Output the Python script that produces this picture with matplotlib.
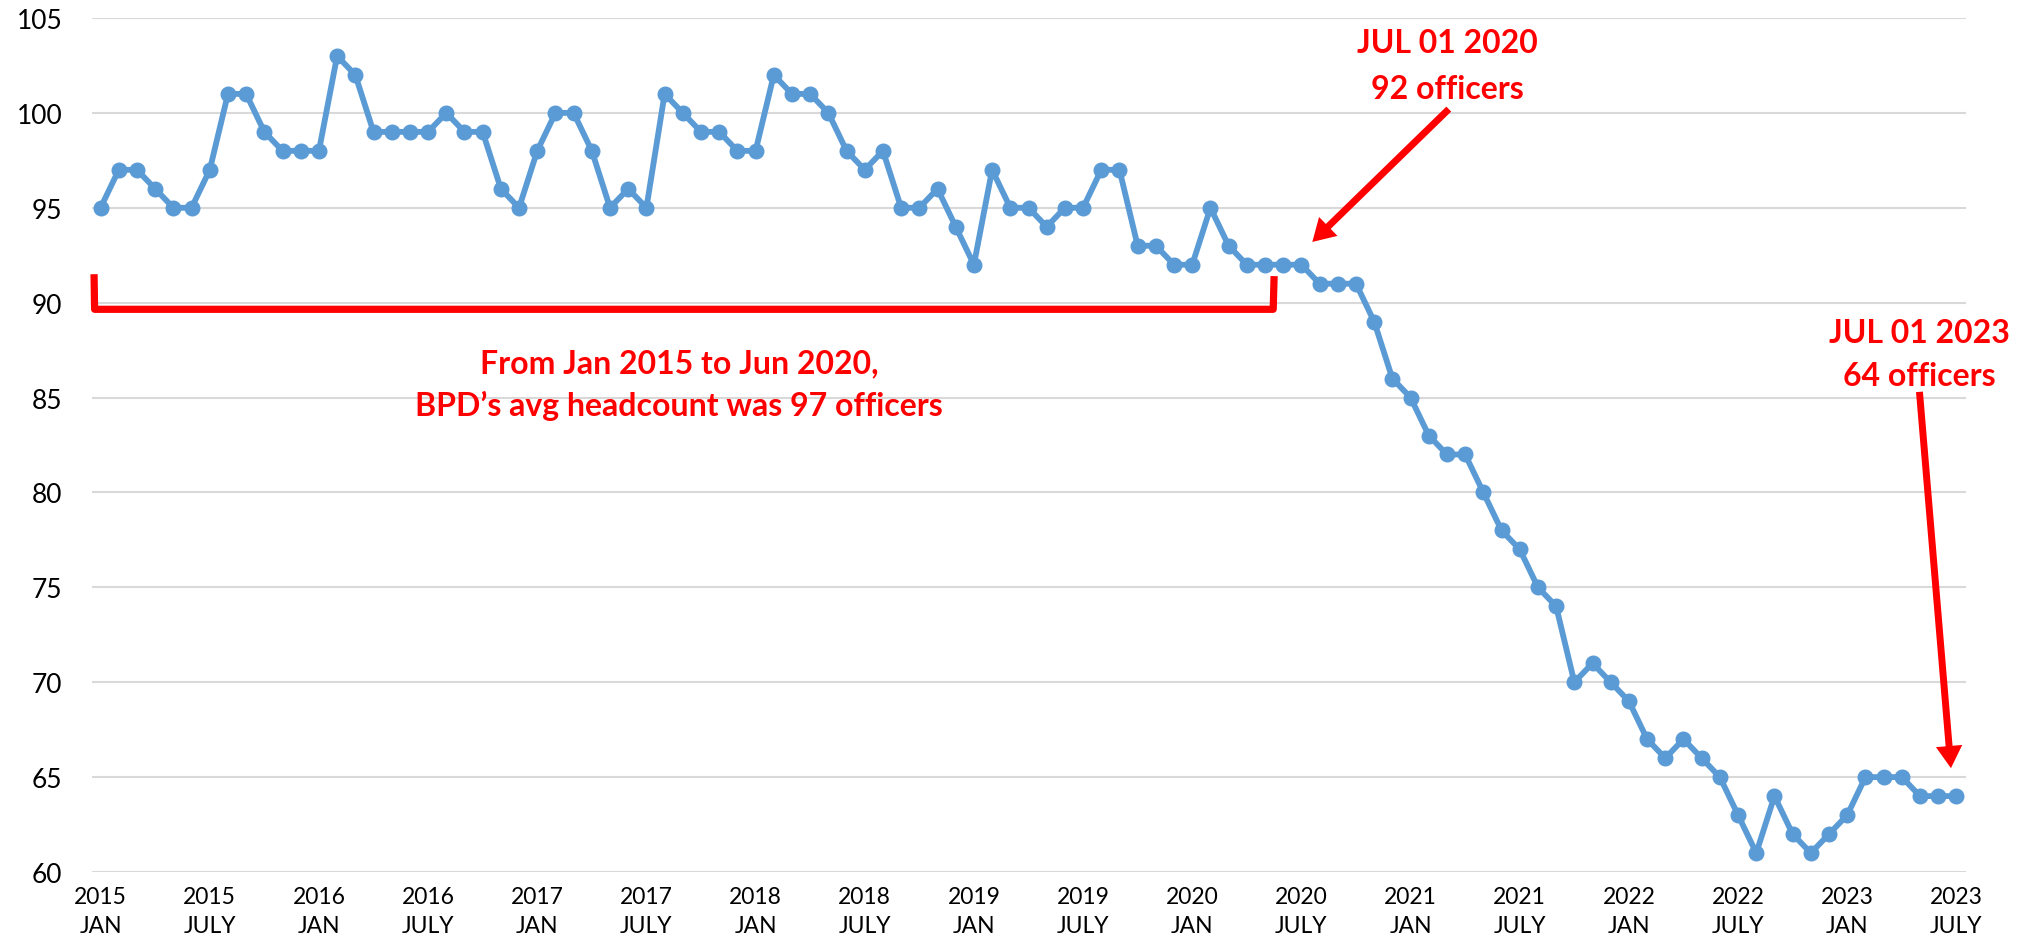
import matplotlib
matplotlib.use("Agg")
import matplotlib.pyplot as plt
import numpy as np

plt.rcParams['font.family'] = ['Lato', 'DejaVu Sans']

# ---- data ----
officers = [95, 97, 97, 96, 95, 95, 97, 101, 101, 99, 98, 98,
            98, 103, 102, 99, 99, 99, 99, 100, 99, 99, 96, 95,
            98, 100, 100, 98, 95, 96, 95, 101, 100, 99, 99, 98,
            98, 102, 101, 101, 100, 98, 97, 98, 95, 95, 96, 94,
            92, 97, 95, 95, 94, 95, 95, 97, 97, 93, 93, 92,
            92, 95, 93, 92, 92, 92, 92, 91, 91, 91, 89, 86,
            85, 83, 82, 82, 80, 78, 77, 75, 74, 70, 71, 70,
            69, 67, 66, 67, 66, 65, 63, 61, 64, 62, 61, 62,
            63, 65, 65, 65, 64, 64, 64]
tick_years = ['2015', '2015', '2016', '2016', '2017', '2017', '2018', '2018', '2019',
              '2019', '2020', '2020', '2021', '2021', '2022', '2022', '2023', '2023']
tick_months = ['JAN', 'JULY'] * 9
y_ticks = [60, 65, 70, 75, 80, 85, 90, 95, 100, 105]

note_2020 = "JUL 01 2020\n92 officers"
note_2023 = "JUL 01 2023\n64 officers"
note_avg = "From Jan 2015 to Jun 2020,\nBPD\u2019s avg headcount was 97 officers"

# ---- figure ----
W, H = 2023, 953
fig = plt.figure(figsize=(W / 100, H / 100), dpi=100)
ax = fig.add_axes([91.5 / W, 1 - 873 / H, (1965.5 - 91.5) / W, (873 - 19) / H])

x = np.arange(len(officers))
ax.plot(x, officers, color='#5B9BD5', lw=4.2, marker='o', markersize=10.5,
        markerfacecolor='#5B9BD5', markeredgecolor='#5B9BD5', zorder=3,
        solid_joinstyle='round')

ax.set_xlim(-0.5, len(officers) - 0.5)
ax.set_ylim(60, 105)
ax.set_yticks(y_ticks)
ax.set_yticklabels([str(v) for v in y_ticks], fontsize=19)
tick_pos = np.arange(0, len(officers), 6)
ax.set_xticks(tick_pos)
ax.set_xticklabels([f"{a}\n{b}" for a, b in zip(tick_years, tick_months)],
                   fontsize=16.5, linespacing=1.5)
ax.tick_params(axis='y', length=0, pad=21)
ax.tick_params(axis='x', length=0, pad=10)
ax.grid(axis='y', color='#D9D9D9', lw=1.5, zorder=0)
ax.grid(axis='x', visible=False)
for s in ax.spines.values():
    s.set_visible(False)
ax.set_axisbelow(True)

red = '#FF0000'
# bracket
ax.plot([-0.36, -0.33, 64.45, 64.5], [91.5, 89.65, 89.65, 91.4], color=red, lw=5.2,
        solid_joinstyle='round', solid_capstyle='butt', clip_on=False, zorder=4)

# texts
ax.text(74.0, 102.5, note_2020, color=red, fontsize=23, fontweight='bold',
        ha='center', va='center', linespacing=1.68)
ax.text(99.97, 87.3, note_2023, color=red, fontsize=23, fontweight='bold',
        ha='center', va='center', linespacing=1.55, clip_on=False)
ax.text(31.8, 85.72, note_avg, color=red, fontsize=23, fontweight='bold',
        ha='center', va='center', linespacing=1.48)

# arrows
arrow_style = 'simple,head_length=16,head_width=19,tail_width=5'
ax.annotate('', xy=(66.6, 93.2), xytext=(74.1, 100.2),
            arrowprops=dict(arrowstyle=arrow_style, mutation_scale=1, color=red,
                            lw=0, shrinkA=0, shrinkB=0), zorder=5)
ax.annotate('', xy=(101.7, 65.47), xytext=(99.97, 85.3),
            arrowprops=dict(arrowstyle=arrow_style, mutation_scale=1, color=red,
                            lw=0, shrinkA=0, shrinkB=0), zorder=5)

fig.savefig('out.png', dpi=100, facecolor='white')
